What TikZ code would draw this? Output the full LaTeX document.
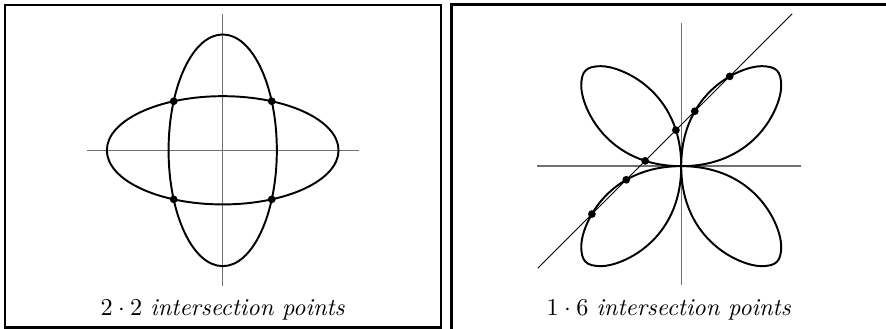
\documentclass[tikz,border=0pt]{standalone}
\definecolor{axisgray}{HTML}{707070}
\usepackage{amsmath}
\usetikzlibrary{intersections}

\begin{document}
\begin{tikzpicture}[
    curve/.style={thick,black},
    axis/.style={axisgray,line width=0.6pt},
    secant/.style={black,line width=0.4pt},
    caption/.style={anchor=base,font=\normalsize}
  ]
    \useasboundingbox (0,0) rectangle (12.85,4.77);
    \clip (0,0) rectangle (12.85,4.77);
    % left panel: degree 2 times degree 2
    \draw[line width=0.83pt] (0.07,0.02) rectangle (6.39,4.70);
    \begin{scope}[shift={(3.23,2.59)}]
      \draw[axis] (-1.97,0) -- (1.97,0);
      \draw[axis] (0,-1.97) -- (0,1.97);
      \draw[curve,name path=flat] (0,0) ellipse [x radius=1.68,y radius=0.785];
      \draw[curve,name path=tall] (0,0) ellipse [x radius=0.785,y radius=1.68];
      \fill[name intersections={of=flat and tall,total=\n}]
        \foreach \k in {1,...,\n} {(intersection-\k) circle (1.6pt)};
    \end{scope}
    \node[caption] (capleft) at (3.23,0.2) {$2\cdot 2$ \textit{intersection points}};
    % right panel: line times sextic
    \draw[line width=1.25pt] (6.55,-0.5) rectangle (13.2,4.71);
    \begin{scope}[shift={(9.88,2.36)}]
      \draw[axis] (-2.09,0) -- (1.73,0);
      \draw[axis] (0,-1.73) -- (0,2.08);
      \draw[secant,name path=diag] (-2.08,-1.48) -- (1.61,2.21);
      \draw[curve,name path=flower]
        (0,0) .. controls (1.09,0) and (1.45,0.87) .. (1.45,1.16)
              .. controls (1.45,1.38) and (1.38,1.45) .. (1.16,1.45)
              .. controls (0.87,1.45) and (0,1.09) .. (0,0)
        (0,0) .. controls (-1.09,0) and (-1.45,0.87) .. (-1.45,1.16)
              .. controls (-1.45,1.38) and (-1.38,1.45) .. (-1.16,1.45)
              .. controls (-0.87,1.45) and (0,1.09) .. (0,0)
        (0,0) .. controls (-1.09,0) and (-1.45,-0.87) .. (-1.45,-1.16)
              .. controls (-1.45,-1.38) and (-1.38,-1.45) .. (-1.16,-1.45)
              .. controls (-0.87,-1.45) and (0,-1.09) .. (0,0)
        (0,0) .. controls (1.09,0) and (1.45,-0.87) .. (1.45,-1.16)
              .. controls (1.45,-1.38) and (1.38,-1.45) .. (1.16,-1.45)
              .. controls (0.87,-1.45) and (0,-1.09) .. (0,0);
      \fill[name intersections={of=flower and diag,total=\n}]
        \foreach \k in {1,...,\n} {(intersection-\k) circle (1.6pt)};
    \end{scope}
    \node[caption] (capright) at (9.70,0.2) {$1\cdot 6$ \textit{intersection points}};
\end{tikzpicture}
\end{document}
